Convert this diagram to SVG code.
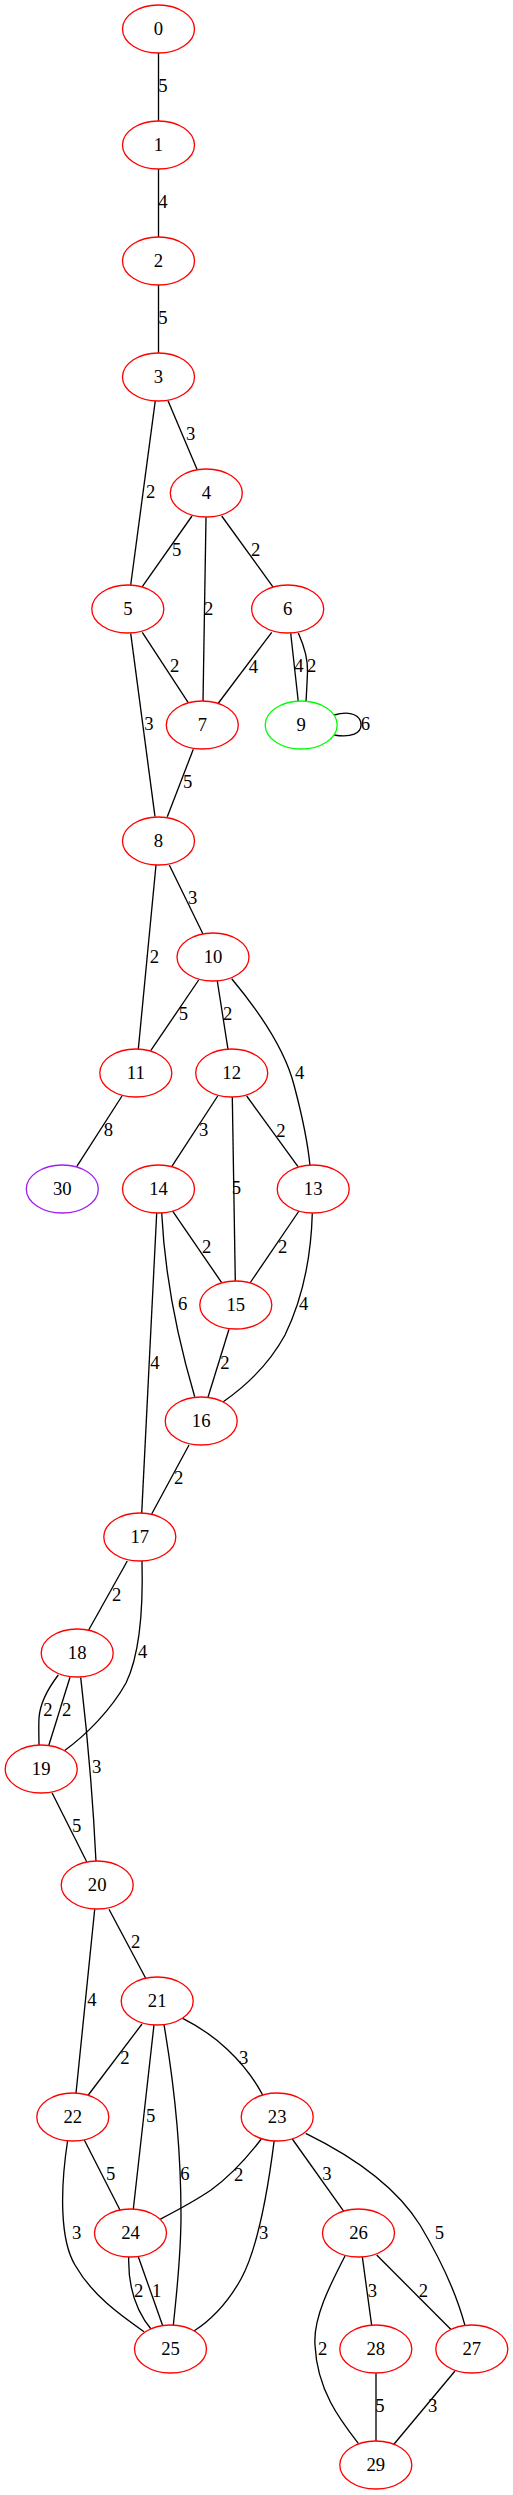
<svg xmlns="http://www.w3.org/2000/svg" width="513" height="2495" viewBox="0 0 513 2495">
<style>
.n ellipse{fill:#fff;stroke:#ff0000;stroke-width:1.33}
.n.g ellipse{stroke:#00ff00}
.n.p ellipse{stroke:#a020f0}
.n text{font-family:"Liberation Serif","Times New Roman",serif;font-size:18.67px;text-anchor:middle;fill:#000}
#edges path{fill:none;stroke:#000;stroke-width:1.33}
#edges text{font-family:"Liberation Serif","Times New Roman",serif;font-size:18.67px;text-anchor:middle;fill:#000}
</style>
<rect width="513" height="2495" fill="#fff"/>
<g id="edges">
<path d="M158.5,53 L158.5,121"/><text x="163" y="92">5</text>
<path d="M158.5,169 L158.5,237"/><text x="163" y="208">4</text>
<path d="M158.5,285 L158.5,353"/><text x="163" y="324">5</text>
<path d="M168,400.7 L197.3,470"/><text x="190.7" y="440">3</text>
<path d="M155.3,400.7 L130.7,585"/><text x="150.7" y="498">2</text>
<path d="M192,516 L142.3,586.7"/><text x="176.7" y="556">5</text>
<path d="M206,517.3 L203,701.7"/><text x="208.7" y="615">2</text>
<path d="M221.7,516 L273.3,587.3"/><text x="255.7" y="556">2</text>
<path d="M142.3,632.3 L188.7,703.3"/><text x="174.7" y="672">2</text>
<path d="M271.7,632.3 L217.7,704"/><text x="253.3" y="673">4</text>
<path d="M290.7,633.3 L298.3,701.7"/><text x="299" y="672">4</text>
<path d="M298.3,633 C305,648 308,660 307.5,672 C307,684 306.5,694 306,701.7"/><text x="311.7" y="672">2</text>
<path d="M334,715 C352,710 361,716 361,725 C361,733 352,738 334,735"/><text x="365.3" y="730">6</text>
<path d="M130.7,633.3 L155,816.7"/><text x="149" y="730">3</text>
<path d="M193.3,749.3 L167.3,816.7"/><text x="187.7" y="788">5</text>
<path d="M156,865 L138.3,1049.3"/><text x="154.3" y="963">2</text>
<path d="M169.3,865 L203,934"/><text x="192.7" y="904">3</text>
<path d="M198.7,980 L150.7,1050.7"/><text x="183.3" y="1020">5</text>
<path d="M217.3,981 L228,1049.3"/><text x="227.7" y="1020">2</text>
<path d="M231.7,978.7 C262,1015 285,1050 294,1085 C302,1115 308,1145 310,1165.7"/><text x="299.7" y="1079">4</text>
<path d="M122,1096 L76.7,1166.7"/><text x="108.3" y="1136">8</text>
<path d="M217.7,1096 L171.7,1166.7"/><text x="203.7" y="1136">3</text>
<path d="M232.3,1097 L235.3,1281"/><text x="236.3" y="1194">5</text>
<path d="M246.7,1096 L298,1166.7"/><text x="281" y="1137">2</text>
<path d="M172.3,1210.7 L221.7,1282.7"/><text x="206.7" y="1253">2</text>
<path d="M299,1211 L250,1283"/><text x="282.7" y="1253">2</text>
<path d="M312.3,1213.3 C311,1260 302,1300 285,1335 C267,1368 243,1388 223.3,1401.7"/><text x="303.7" y="1310">4</text>
<path d="M161.7,1213 C165,1280 178,1340 194.7,1396.7"/><text x="182.7" y="1310">6</text>
<path d="M156.7,1213 L141.7,1513.3"/><text x="155" y="1369">4</text>
<path d="M229,1329.3 L208,1397.3"/><text x="225" y="1369">2</text>
<path d="M189,1445 L151.7,1514"/><text x="178.7" y="1484">2</text>
<path d="M127.3,1561 L88.7,1630"/><text x="116.7" y="1601">2</text>
<path d="M142,1561 C143,1600 142,1650 126,1683 C111,1710 86,1735 64.3,1750.7"/><text x="142.7" y="1658">4</text>
<path d="M58.3,1675 C46,1691 40,1704 39,1718 C38.5,1728 39,1738 39,1745.7"/><text x="48" y="1716">2</text>
<path d="M70,1677.3 L48.7,1745.7"/><text x="66.7" y="1716">2</text>
<path d="M80.7,1677.3 C88,1740 93,1800 96,1861.7"/><text x="96.7" y="1773">3</text>
<path d="M52,1792.7 L86.7,1861.7"/><text x="76.7" y="1832">5</text>
<path d="M94.7,1909.3 L76,2093.3"/><text x="92" y="2006">4</text>
<path d="M109,1909.3 L145.7,1978.3"/><text x="135.7" y="1948">2</text>
<path d="M142,2024 L88.3,2095"/><text x="125" y="2064">2</text>
<path d="M154,2024.7 L133.3,2209.3"/><text x="150.7" y="2122">5</text>
<path d="M164,2024.7 C176,2095 181,2165 181,2215 C181,2258 176,2298 173.3,2325.7"/><text x="185" y="2180">6</text>
<path d="M182.7,2018.3 C214,2034 244,2060 262.7,2095"/><text x="243.7" y="2064">3</text>
<path d="M84.3,2140 L120,2210"/><text x="110.7" y="2180">5</text>
<path d="M67.7,2140 C60,2190 60,2240 75,2265 C92,2295 120,2315 144,2331.7"/><text x="76.7" y="2239">3</text>
<path d="M261.3,2139 C246,2159 229,2177 211,2190 C195,2201 176,2211 160,2219.3"/><text x="238.7" y="2181">2</text>
<path d="M274.3,2139.7 C268,2190 258,2248 241,2279 C227,2304 211,2320 194,2331"/><text x="263.7" y="2239">3</text>
<path d="M292.3,2139 L344,2211.7"/><text x="327" y="2180">3</text>
<path d="M305.7,2133.3 C350,2155 395,2185 420,2225 C441,2260 456,2292 465,2325.7"/><text x="439.3" y="2239">5</text>
<path d="M128.7,2256.7 C128,2285 135,2310 151.7,2330"/><text x="138.7" y="2297">2</text>
<path d="M138.3,2256.7 L162.7,2325.7"/><text x="156.7" y="2297">1</text>
<path d="M362.3,2256.7 L371.7,2325.7"/><text x="372.3" y="2297">3</text>
<path d="M376.7,2255 L450.7,2329.3"/><text x="423.3" y="2297">2</text>
<path d="M345,2256 C330,2285 313,2318 315,2345 C317,2390 340,2420 358.3,2443.3"/><text x="322.7" y="2355">2</text>
<path d="M376,2373.3 L376,2441.7"/><text x="380" y="2412">5</text>
<path d="M455,2371 L393.3,2445"/><text x="432.7" y="2412">3</text>
</g>
<g id="node0" class="n"><ellipse cx="158.5" cy="29" rx="36" ry="24"/><text x="158.5" y="34.6">0</text></g>
<g id="node1" class="n"><ellipse cx="158.5" cy="145" rx="36" ry="24"/><text x="158.5" y="150.6">1</text></g>
<g id="node2" class="n"><ellipse cx="158.5" cy="261" rx="36" ry="24"/><text x="158.5" y="266.6">2</text></g>
<g id="node3" class="n"><ellipse cx="158.5" cy="377" rx="36" ry="24"/><text x="158.5" y="382.6">3</text></g>
<g id="node4" class="n"><ellipse cx="206.3" cy="493" rx="36" ry="24"/><text x="206.3" y="498.6">4</text></g>
<g id="node5" class="n"><ellipse cx="127.8" cy="609" rx="36" ry="24"/><text x="127.8" y="614.6">5</text></g>
<g id="node6" class="n"><ellipse cx="287.7" cy="609" rx="36" ry="24"/><text x="287.7" y="614.6">6</text></g>
<g id="node7" class="n"><ellipse cx="202.3" cy="725" rx="36" ry="24"/><text x="202.3" y="730.6">7</text></g>
<g id="node9" class="n g"><ellipse cx="301.2" cy="725" rx="36" ry="24"/><text x="301.2" y="730.6">9</text></g>
<g id="node8" class="n"><ellipse cx="158.5" cy="841" rx="36" ry="24"/><text x="158.5" y="846.6">8</text></g>
<g id="node10" class="n"><ellipse cx="213" cy="957" rx="36" ry="24"/><text x="213" y="962.6">10</text></g>
<g id="node11" class="n"><ellipse cx="135.8" cy="1073" rx="36" ry="24"/><text x="135.8" y="1078.6">11</text></g>
<g id="node12" class="n"><ellipse cx="231.7" cy="1073" rx="36" ry="24"/><text x="231.7" y="1078.6">12</text></g>
<g id="node30" class="n p"><ellipse cx="62.3" cy="1189" rx="36" ry="24"/><text x="62.3" y="1194.6">30</text></g>
<g id="node14" class="n"><ellipse cx="158.5" cy="1189" rx="36" ry="24"/><text x="158.5" y="1194.6">14</text></g>
<g id="node13" class="n"><ellipse cx="313.2" cy="1189" rx="36" ry="24"/><text x="313.2" y="1194.6">13</text></g>
<g id="node15" class="n"><ellipse cx="235.8" cy="1305" rx="36" ry="24"/><text x="235.8" y="1310.6">15</text></g>
<g id="node16" class="n"><ellipse cx="201.2" cy="1421" rx="36" ry="24"/><text x="201.2" y="1426.6">16</text></g>
<g id="node17" class="n"><ellipse cx="139.8" cy="1537" rx="36" ry="24"/><text x="139.8" y="1542.6">17</text></g>
<g id="node18" class="n"><ellipse cx="77.2" cy="1653" rx="36" ry="24"/><text x="77.2" y="1658.6">18</text></g>
<g id="node19" class="n"><ellipse cx="41.2" cy="1769" rx="36" ry="24"/><text x="41.2" y="1774.6">19</text></g>
<g id="node20" class="n"><ellipse cx="97.2" cy="1885" rx="36" ry="24"/><text x="97.2" y="1890.6">20</text></g>
<g id="node21" class="n"><ellipse cx="157.2" cy="2001" rx="36" ry="24"/><text x="157.2" y="2006.6">21</text></g>
<g id="node22" class="n"><ellipse cx="72.8" cy="2117" rx="36" ry="24"/><text x="72.8" y="2122.6">22</text></g>
<g id="node23" class="n"><ellipse cx="277.2" cy="2117" rx="36" ry="24"/><text x="277.2" y="2122.6">23</text></g>
<g id="node24" class="n"><ellipse cx="130.5" cy="2233" rx="36" ry="24"/><text x="130.5" y="2238.6">24</text></g>
<g id="node26" class="n"><ellipse cx="358.5" cy="2233" rx="36" ry="24"/><text x="358.5" y="2238.6">26</text></g>
<g id="node25" class="n"><ellipse cx="170.5" cy="2349" rx="36" ry="24"/><text x="170.5" y="2354.6">25</text></g>
<g id="node28" class="n"><ellipse cx="375.8" cy="2349" rx="36" ry="24"/><text x="375.8" y="2354.6">28</text></g>
<g id="node27" class="n"><ellipse cx="471.8" cy="2349" rx="36" ry="24"/><text x="471.8" y="2354.6">27</text></g>
<g id="node29" class="n"><ellipse cx="375.8" cy="2465" rx="36" ry="24"/><text x="375.8" y="2470.6">29</text></g>
</svg>
